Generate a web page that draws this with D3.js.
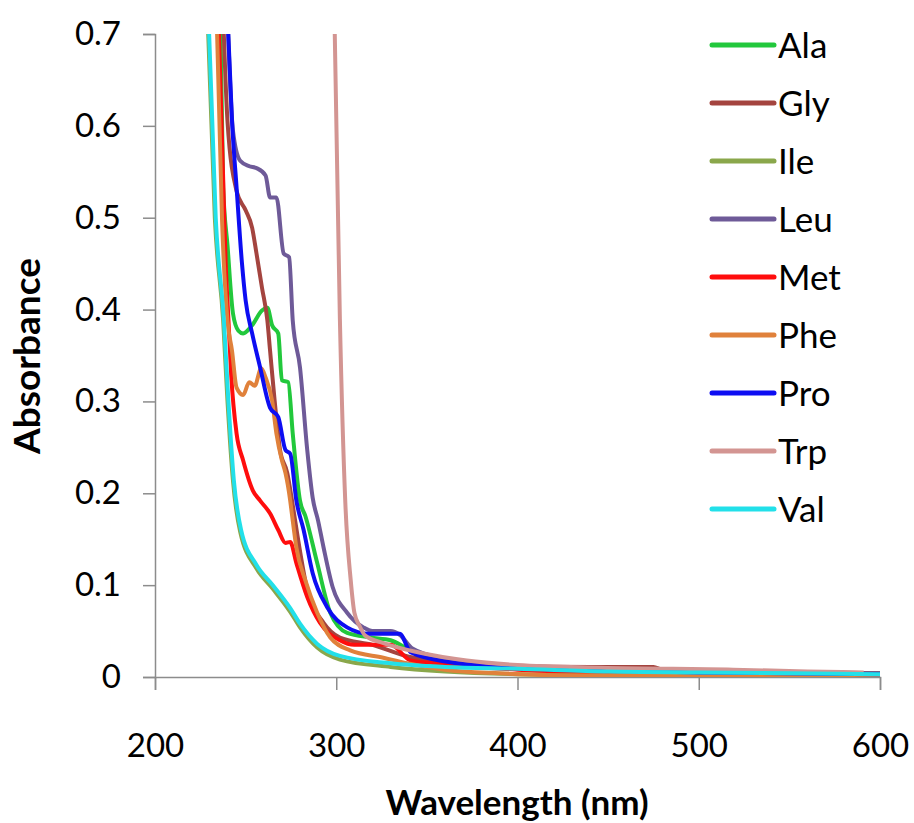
<!DOCTYPE html>
<html>
<head>
<meta charset="utf-8">
<script src="https://cdn.jsdelivr.net/npm/d3@7"></script>
<style>
  body { margin: 0; background: #fff; }
  svg text { font-family: Lato, "Liberation Sans", sans-serif; fill: #000; }
</style>
</head>
<body>
<svg id="chart" width="914" height="823"></svg>
<script>
// absorbance spectra, [wavelength nm, absorbance]
var ala = [[236,0.72],[237.6,0.533],[240,0.47],[243,0.396],[246,0.377],[248.6,0.374],[253.6,0.383],[259,0.399],[262,0.402],[264.6,0.383],[268,0.374],[270,0.323],[273.5,0.321],[276,0.265],[280,0.192],[283,0.175],[289.5,0.124],[296.7,0.07],[306,0.048],[319,0.043],[330,0.04],[340,0.03],[360,0.02],[400,0.012],[450,0.008],[500,0.006],[600,0.004]];
var gly = [[237.6,0.72],[240,0.605],[245,0.529],[250,0.508],[253.6,0.489],[256,0.461],[259,0.424],[262,0.388],[263.5,0.355],[266,0.301],[269,0.247],[273,0.222],[275.6,0.192],[279,0.149],[284,0.095],[293,0.059],[302,0.043],[320,0.035],[340,0.022],[370,0.015],[400,0.012],[440,0.011],[475,0.011],[480,0.008],[520,0.006],[600,0.004]];
var ile = [[229,0.72],[233,0.5],[237.6,0.388],[240,0.3],[243,0.214],[247,0.158],[256,0.118],[265,0.096],[274.6,0.071],[280,0.054],[289.5,0.032],[302,0.019],[330,0.011],[360,0.006],[400,0.003],[450,0.002],[600,0.002]];
var leu = [[240,0.72],[243,0.595],[247,0.562],[252,0.556],[256,0.554],[261,0.546],[263.5,0.522],[267,0.522],[271,0.461],[274,0.457],[276,0.388],[280,0.337],[284,0.247],[287,0.195],[290,0.17],[293,0.141],[298,0.098],[306,0.07],[315,0.054],[320,0.05],[330,0.05],[335,0.046],[342,0.031],[360,0.02],[400,0.012],[450,0.009],[500,0.006],[600,0.004]];
var met = [[235,0.72],[237.5,0.55],[239,0.45],[240.5,0.39],[242,0.33],[245,0.265],[248.6,0.236],[254,0.203],[258,0.192],[263.5,0.178],[268,0.16],[272,0.146],[274.6,0.147],[278,0.124],[284,0.087],[291,0.059],[302,0.04],[310,0.035],[330,0.035],[341,0.018],[354,0.015],[400,0.008],[450,0.005],[600,0.003]];
var phe = [[234,0.72],[237,0.497],[240,0.388],[242.5,0.355],[245,0.315],[248.6,0.307],[252,0.321],[255,0.317],[258.6,0.336],[261,0.326],[264.6,0.301],[267,0.265],[270,0.236],[272,0.222],[274.6,0.192],[275.5,0.178],[278,0.141],[283,0.105],[289.5,0.07],[296.7,0.043],[307.7,0.029],[326,0.021],[339,0.015],[360,0.008],[390,0.004],[420,0.002],[600,0.001]];
var pro = [[240,0.72],[242.5,0.605],[245,0.533],[248,0.45],[250,0.41],[253.6,0.374],[258,0.337],[263.5,0.293],[268,0.283],[272,0.247],[274.6,0.243],[278,0.192],[282,0.16],[287,0.113],[295,0.076],[306,0.054],[318,0.047],[335,0.047],[341,0.027],[363,0.016],[387,0.011],[450,0.007],[500,0.005],[600,0.003]];
var trp = [[299,0.72],[302,0.39],[305,0.19],[308,0.105],[310,0.07],[313,0.055],[316,0.045],[326,0.037],[345,0.027],[372,0.018],[400,0.013],[446,0.01],[519,0.008],[560,0.006],[591,0.005]];
var val = [[229.5,0.72],[233.5,0.5],[238,0.388],[240.5,0.3],[243.5,0.214],[247.5,0.16],[256,0.122],[265,0.1],[274.6,0.075],[280,0.058],[289.5,0.036],[302,0.023],[330,0.015],[360,0.011],[400,0.009],[450,0.006],[500,0.005],[600,0.003]];

var names = ["Ala", "Gly", "Ile", "Leu", "Met", "Phe", "Pro", "Trp", "Val"];
var colors = ["#22c83c", "#a4443f", "#8aa74b", "#6e5a98", "#ff0d0d", "#e0813b", "#0d0df2", "#d39592", "#22e0e9"];
var spectra = [ala, gly, ile, leu, met, phe, pro, trp, val];

var xTicks = [200, 300, 400, 500, 600];
var yTicks = [0, 0.1, 0.2, 0.3, 0.4, 0.5, 0.6, 0.7];

var svg = d3.select("#chart");
var plotLeft = 155, plotRight = 880, plotTop = 34, plotBottom = 677;

var x = d3.scaleLinear().domain([200, 600]).range([plotLeft, plotRight]);
var y = d3.scaleLinear().domain([0, 0.7]).range([plotBottom, plotTop]);

svg.append("defs").append("clipPath").attr("id", "plotClip")
  .append("rect")
    .attr("x", plotLeft).attr("y", plotTop)
    .attr("width", plotRight - plotLeft).attr("height", plotBottom - plotTop);

var axisColor = "#8c8c8c";

var yAxis = svg.append("g")
    .attr("transform", "translate(" + plotLeft + ",0)")
    .call(d3.axisLeft(y).tickValues(yTicks).tickSize(12).tickPadding(22)
      .tickFormat(function(d) { return d === 0 ? "0" : d3.format(".1f")(d); }));

var xAxis = svg.append("g")
    .attr("transform", "translate(0," + plotBottom + ")")
    .call(d3.axisBottom(x).tickValues(xTicks).tickSize(13).tickPadding(44).tickFormat(d3.format("d")));

[yAxis, xAxis].forEach(function(ax) {
  ax.select(".domain").attr("stroke", axisColor).attr("stroke-width", 1.5);
  ax.selectAll(".tick line").attr("stroke", axisColor).attr("stroke-width", 1.5);
  ax.selectAll(".tick text").style("font-size", "33px").attr("fill", "#111");
});

var line = d3.line()
    .x(function(d) { return x(d[0]); })
    .y(function(d) { return y(d[1]); })
    .curve(d3.curveMonotoneX);

svg.append("g").attr("clip-path", "url(#plotClip)")
  .selectAll("path")
  .data(spectra)
  .enter()
  .append("path")
    .attr("d", line)
    .attr("fill", "none")
    .attr("stroke", function(d, i) { return colors[i]; })
    .attr("stroke-width", 4)
    .attr("stroke-linejoin", "round");

// legend
var legend = svg.append("g").attr("transform", "translate(712,45)");
var rows = legend.selectAll("g")
  .data(names)
  .enter()
  .append("g")
    .attr("transform", function(d, i) { return "translate(0," + (i * 58) + ")"; });

rows.append("line")
    .attr("x1", 0).attr("x2", 62)
    .attr("stroke", function(d, i) { return colors[i]; })
    .attr("stroke-width", 5)
    .attr("stroke-linecap", "round");

rows.append("text")
    .attr("x", 66).attr("y", 13)
    .style("font-size", "35px")
    .text(function(d) { return d; });

svg.append("text")
    .attr("x", 517)
    .attr("y", 815)
    .attr("text-anchor", "middle")
    .style("font-size", "35px")
    .style("font-weight", "bold")
    .text("Wavelength (nm)");

svg.append("text")
    .attr("transform", "translate(40,356) rotate(-90)")
    .attr("text-anchor", "middle")
    .style("font-size", "37px")
    .style("font-weight", "bold")
    .text("Absorbance");
</script>
</body>
</html>
